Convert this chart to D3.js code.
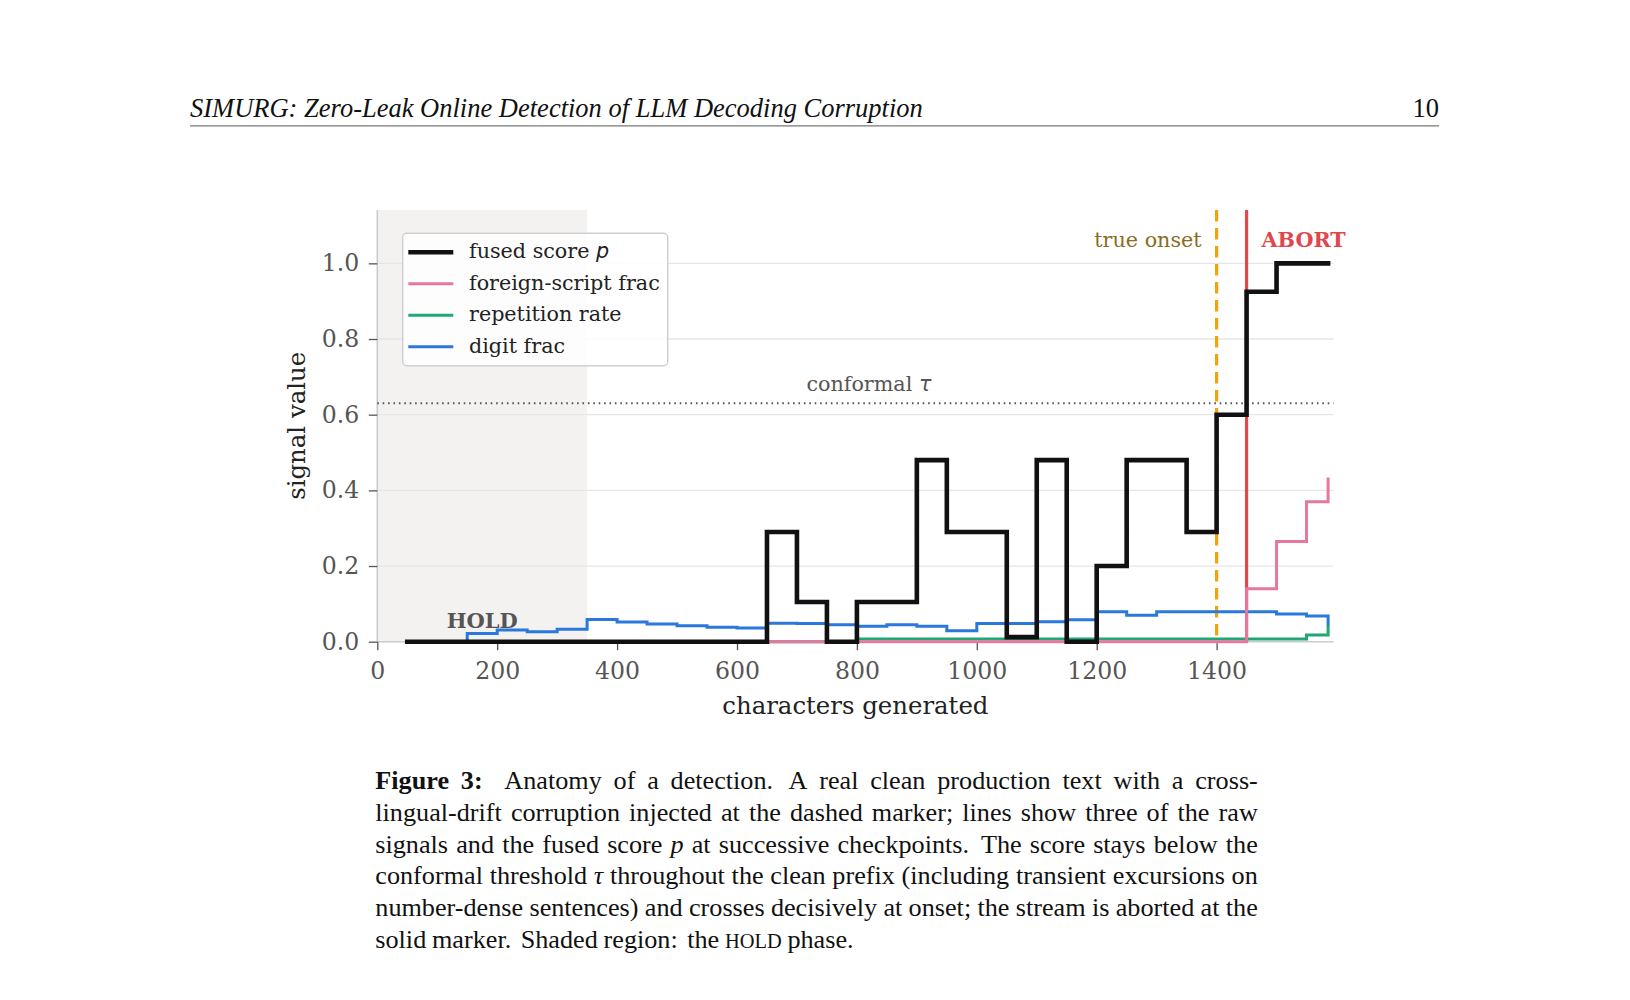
<!DOCTYPE html>
<html>
<head>
<meta charset="utf-8">
<script src="https://cdn.jsdelivr.net/npm/d3@7"></script>
<style>
  body { margin: 0; background: #fff; }
  svg { display: block; }
</style>
</head>
<body>
<svg id="fig" width="1630" height="1000"></svg>
<script>
// checkpoints (characters generated) and the signals read at each one
var charPos = [50, 100, 150, 200, 250, 300, 350, 400, 450, 500, 550, 600, 650, 700, 750, 800,
               850, 900, 950, 1000, 1050, 1100, 1150, 1200, 1250, 1300, 1350, 1400, 1450, 1500, 1550, 1586];
var fusedScore = [0, 0, 0, 0, 0, 0, 0, 0, 0, 0, 0, 0, 0.29, 0.105, 0, 0.105,
                  0.105, 0.48, 0.29, 0.29, 0.012, 0.48, 0, 0.2, 0.48, 0.48, 0.29, 0.6, 0.925, 1.0, 1.0, 1.0];
var foreignScript = [0, 0, 0, 0, 0, 0, 0, 0, 0, 0, 0, 0, 0, 0, 0, 0,
                     0, 0, 0, 0, 0, 0, 0, 0, 0, 0, 0, 0, 0.14, 0.265, 0.37, 0.43];
var repetitionRate = [0, 0, 0, 0, 0, 0, 0, 0, 0, 0, 0, 0, 0, 0, 0, 0.007,
                      0.007, 0.007, 0.007, 0.007, 0.007, 0.007, 0.007, 0.007, 0.007, 0.007, 0.007, 0.007, 0.007, 0.007, 0.018, 0.04];
var digitFrac = [0, 0, 0.022, 0.031, 0.026, 0.033, 0.059, 0.052, 0.047, 0.042, 0.038, 0.036, 0.049, 0.048, 0.045, 0.041,
                 0.045, 0.041, 0.029, 0.048, 0.048, 0.053, 0.058, 0.079, 0.07, 0.079, 0.079, 0.079, 0.079, 0.073, 0.068, 0.047];

var seriesNames = ["fused score", "foreign-script frac", "repetition rate", "digit frac"];
var seriesColors = ["#111111", "#e8779e", "#1fa774", "#2a78db"];

var xTicks = [0, 200, 400, 600, 800, 1000, 1200, 1400];
var yTicks = [0, 0.2, 0.4, 0.6, 0.8, 1.0];
var xDomain = [0, 1595], yDomain = [0, 1.141];

var tau = 0.63;        // conformal threshold
var onsetAt = 1400;    // injected corruption
var abortAt = 1450;    // stream aborted
var holdEnd = 350;     // HOLD phase end

var serif = "DejaVu Serif";
var svg = d3.select("#fig");

var x = d3.scaleLinear().domain(xDomain).range([377.3, 1333.5]);
var y = d3.scaleLinear().domain(yDomain).range([641.7, 210]);

// ---- running header ----
svg.append("text").attr("x", 190).attr("y", 116.5)
   .style("font-family", "Liberation Serif").style("font-style", "italic").style("font-size", "26.5px")
   .attr("fill", "#111").text("SIMURG: Zero-Leak Online Detection of LLM Decoding Corruption");
svg.append("text").attr("x", 1439).attr("y", 116.5).attr("text-anchor", "end")
   .style("font-family", "Liberation Serif").style("font-size", "26.5px")
   .attr("fill", "#111").text("10");
svg.append("line").attr("x1", 190).attr("x2", 1439).attr("y1", 125.8).attr("y2", 125.8)
   .attr("stroke", "#777").attr("stroke-width", 1.3);

// ---- plot area ----
var g = svg.append("g");

g.append("rect")
  .attr("x", x(0)).attr("y", y(yDomain[1]))
  .attr("width", x(holdEnd) - x(0)).attr("height", y(0) - y(yDomain[1]))
  .attr("fill", "#f3f2f0");

g.selectAll(".grid").data(yTicks.slice(1)).enter().append("line")
  .attr("class", "grid")
  .attr("x1", x(0)).attr("x2", x(xDomain[1]))
  .attr("y1", function(d) { return y(d); }).attr("y2", function(d) { return y(d); })
  .attr("stroke", "#e6e6e6").attr("stroke-width", 1.3);

// axes
var xAxis = g.append("g").attr("transform", "translate(0," + y(0) + ")")
  .call(d3.axisBottom(x).tickValues(xTicks).tickFormat(d3.format("d")).tickSize(8.5).tickPadding(12));
var yAxis = g.append("g").attr("transform", "translate(" + x(0) + ",0)")
  .call(d3.axisLeft(y).tickValues(yTicks).tickFormat(d3.format(".1f")).tickSize(8.5).tickPadding(9.5));

[xAxis, yAxis].forEach(function(ax) {
  ax.select(".domain").attr("stroke", "#cccccc").attr("stroke-width", 1.6);
  ax.selectAll(".tick line").attr("stroke", "#555").attr("stroke-width", 1.3);
  ax.selectAll(".tick text").attr("fill", "#555")
    .style("font-family", serif).style("font-size", "23.6px");
});
xAxis.select(".domain").attr("d", "M" + x(0) + ",0H" + x(xDomain[1]));
yAxis.select(".domain").attr("d", "M0," + y(yDomain[1]) + "V" + y(0));

g.append("text").attr("x", (x(0) + x(xDomain[1])) / 2).attr("y", 714.3)
  .attr("text-anchor", "middle").attr("fill", "#222")
  .style("font-family", serif).style("font-size", "24.4px").text("characters generated");
g.append("text").attr("transform", "translate(305," + (y(0) + y(yDomain[1])) / 2 + ") rotate(-90)")
  .attr("text-anchor", "middle").attr("fill", "#222")
  .style("font-family", serif).style("font-size", "24.4px").text("signal value");

// threshold
g.append("line")
  .attr("x1", x(0)).attr("x2", x(xDomain[1]))
  .attr("y1", y(tau)).attr("y2", y(tau))
  .attr("stroke", "#555").attr("stroke-width", 2).attr("stroke-dasharray", "1.6,3.8");
var tauLabel = g.append("text").attr("x", x(820)).attr("y", y(tau) - 12)
  .attr("text-anchor", "middle").attr("fill", "#555")
  .style("font-family", serif).style("font-size", "20.7px");
tauLabel.append("tspan").text("conformal ");
tauLabel.append("tspan").style("font-family", "DejaVu Sans").style("font-style", "italic").text("τ");

// markers
g.append("line")
  .attr("x1", x(onsetAt)).attr("x2", x(onsetAt)).attr("y1", y(yDomain[1])).attr("y2", y(0))
  .attr("stroke", "#f0a30a").attr("stroke-width", 3.2).attr("stroke-dasharray", "11.5,6.5");
g.append("line")
  .attr("x1", x(abortAt)).attr("x2", x(abortAt)).attr("y1", y(yDomain[1])).attr("y2", y(0))
  .attr("stroke", "#e4474c").attr("stroke-width", 3.2);
g.append("text").attr("x", x(onsetAt) - 15).attr("y", 246.7).attr("text-anchor", "end")
  .attr("fill", "#8a6d1e").style("font-family", serif).style("font-size", "20.7px").text("true onset");
g.append("text").attr("x", x(abortAt) + 15).attr("y", 246.7)
  .attr("fill", "#e0474c").style("font-family", serif).style("font-weight", "bold")
  .style("font-size", "20.7px").text("ABORT");

// signals (step after)
var line = d3.line().curve(d3.curveStepAfter)
  .x(function(d) { return x(d[0]); })
  .y(function(d) { return y(d[1]); });

var series = [digitFrac, repetitionRate, foreignScript, fusedScore];
var order = [3, 2, 1, 0];
series.forEach(function(vals, i) {
  var k = order[i];
  g.append("path")
    .datum(charPos.map(function(c, j) { return [c, vals[j]]; }))
    .attr("d", line)
    .attr("fill", "none")
    .attr("stroke", seriesColors[k])
    .attr("stroke-width", k === 0 ? 4.6 : 3)
    .attr("stroke-linejoin", "miter")
    .attr("stroke-linecap", "square");
});

g.append("text").attr("x", x(holdEnd / 2)).attr("y", 628.3).attr("text-anchor", "middle")
  .attr("fill", "#555").style("font-family", serif).style("font-weight", "bold")
  .style("font-size", "21px").text("HOLD");

// legend
var leg = g.append("g");
leg.append("rect").attr("x", 402.7).attr("y", 233.3).attr("width", 265).attr("height", 132.4)
  .attr("rx", 4).attr("fill", "#fff").attr("fill-opacity", 0.85)
  .attr("stroke", "#d0d0d0").attr("stroke-width", 1.5);
seriesNames.forEach(function(name, i) {
  var cy = 252.3 + i * 31.5;
  leg.append("line").attr("x1", 408.3).attr("x2", 453.3).attr("y1", cy).attr("y2", cy)
    .attr("stroke", seriesColors[i]).attr("stroke-width", i === 0 ? 4.6 : 3);
  var t = leg.append("text").attr("x", 469).attr("y", cy + 6).attr("fill", "#222")
    .style("font-family", serif).style("font-size", "20.7px");
  t.append("tspan").text(name);
  if (i === 0) {
    t.append("tspan").text(" ");
    t.append("tspan").style("font-family", "DejaVu Sans").style("font-style", "italic").text("p");
  }
});

// ---- caption (justified) ----
var capLines = [
  "*Figure *3: Anatomy of a detection. A real clean production text with a cross-",
  "lingual-drift corruption injected at the dashed marker; lines show three of the raw",
  "signals and the fused score _p at successive checkpoints. The score stays below the",
  "conformal threshold _τ throughout the clean prefix (including transient excursions on",
  "number-dense sentences) and crosses decisively at onset; the stream is aborted at the",
  "solid marker. Shaded region: the ^HOLD phase."
];
var capX0 = 375.3, capX1 = 1257.8, capY0 = 789, capLead = 31.8, capSize = 26.2;

function styleWord(sel, tok) {
  sel.style("font-family", "Liberation Serif").style("font-size", capSize + "px").attr("fill", "#111");
  var txt = tok;
  if (tok[0] === "*") { sel.style("font-weight", "bold"); txt = tok.slice(1); }
  else if (tok[0] === "_") { sel.style("font-style", "italic"); txt = tok.slice(1); }
  else if (tok[0] === "^") { sel.style("font-size", (capSize * 0.78) + "px"); txt = tok.slice(1); }
  sel.text(txt);
  return txt;
}

var cap = svg.append("g");
capLines.forEach(function(ln, li) {
  var toks = ln.split(" ");
  var nodes = toks.map(function(tok) {
    var t = cap.append("text").attr("y", capY0 + li * capLead);
    var txt = styleWord(t, tok);
    return { sel: t, w: t.node().getComputedTextLength(), txt: txt, raw: tok };
  });
  var base = nodes.slice(0, -1).map(function(n) {
    var last = n.txt[n.txt.length - 1];
    if (n.raw === "*3:") return capSize * 0.6;
    return (last === "." || last === ":") ? capSize * 0.36 : capSize * 0.22;
  });
  var total = d3.sum(nodes, function(n) { return n.w; }) + d3.sum(base);
  var extra = li < capLines.length - 1 ? (capX1 - capX0 - total) / base.length : 0;
  var cx = capX0;
  nodes.forEach(function(n, j) {
    n.sel.attr("x", cx);
    cx += n.w + (j < base.length ? base[j] + extra : 0);
  });
});
</script>
</body>
</html>
